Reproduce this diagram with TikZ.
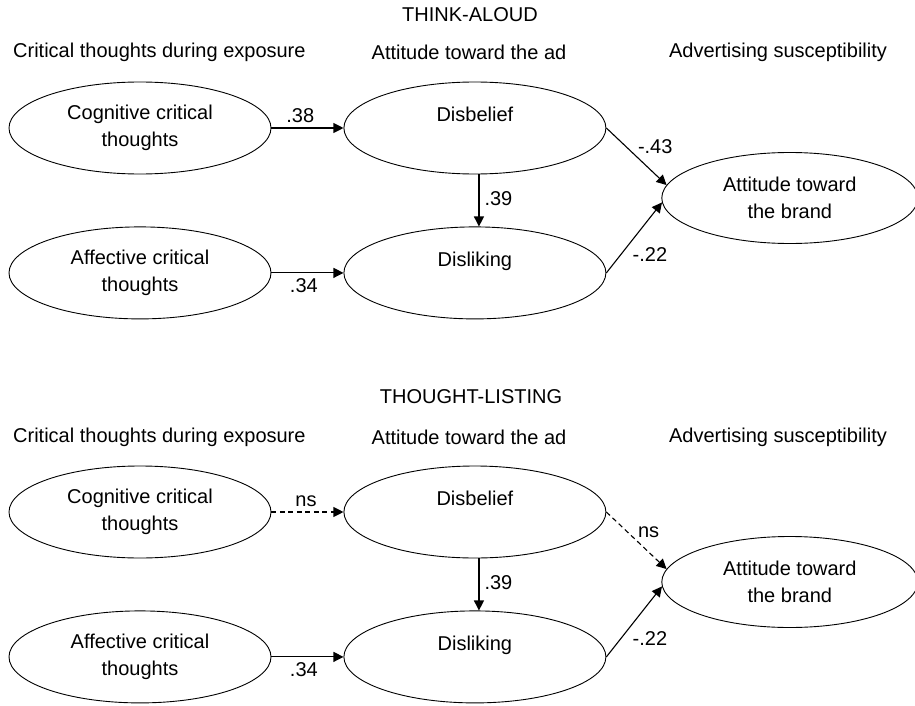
\documentclass[tikz,border=0pt]{standalone}
\usepackage{fontspec}
\setmainfont{Liberation Sans}
\usetikzlibrary{shapes.geometric,arrows.meta,positioning}
\tikzset{
  latent/.style={ellipse,draw=black,line width=0.9pt,minimum width=262pt,minimum height=92pt,inner sep=0pt,align=center},
  brandnode/.style={latent,minimum width=256pt,minimum height=91pt},
  hdr/.style={inner sep=0pt},
  arr/.style={-{Triangle[length=10pt,width=10pt]},line width=1.1pt},
  dasharr/.style={arr,dash pattern=on 5pt off 3.5pt},
  coef/.style={inner sep=5pt},
  dcoef/.style={inner sep=2pt}
}

\begin{document}
\begin{tikzpicture}[x=1pt,y=-1pt,font=\fontsize{20}{27}\selectfont]
  \useasboundingbox (0,0) rectangle (915,706);
  % think-aloud panel
  \node[hdr] (title1) at (470,15) {THINK-ALOUD};
  \node[hdr,anchor=west] (hcrit1) at (13,52) {Critical thoughts during exposure};
  \node[hdr] (had1) at (469,52) {Attitude toward the ad};
  \node[hdr] (hsus1) at (778,52) {Advertising susceptibility};

  \node[latent] (cog1) at (140,128) {Cognitive critical\\thoughts};
  \node[latent,right=72pt of cog1] (dis1) {Disbelief\\\phantom{x}};
  \node[latent,below=52pt of cog1] (aff1) {Affective critical\\thoughts};
  \node[latent,right=72pt of aff1] (dlk1) {Disliking\\\phantom{x}};
  \node[brandnode,right=55pt of dis1,yshift=-70pt] (brand1) {Attitude toward\\the brand};

  \draw[arr] (cog1) -- node[coef,above,pos=0.4]{.38} (dis1);
  \draw[arr] (aff1) -- node[coef,below,pos=0.45]{.34} (dlk1);
  \draw[arr] (dis1.-85) -- node[coef,right,yshift=2pt]{.39} (dlk1.85);
  \draw[arr] (dis1.east) -- node[dcoef,above right,xshift=-1pt]{-.43} (brand1.174);
  \draw[arr] (dlk1.east) -- node[dcoef,below right,xshift=-4pt,yshift=-7pt]{-.22} (brand1.182);

  % thought-listing panel
  \node[hdr] (title2) at (471,397) {THOUGHT-LISTING};
  \node[hdr,anchor=west] (hcrit2) at (13,437) {Critical thoughts during exposure};
  \node[hdr] (had2) at (469,437) {Attitude toward the ad};
  \node[hdr] (hsus2) at (778,437) {Advertising susceptibility};

  \node[latent] (cog2) at (140,512) {Cognitive critical\\thoughts};
  \node[latent,right=72pt of cog2] (dis2) {Disbelief\\\phantom{x}};
  \node[latent,below=52pt of cog2] (aff2) {Affective critical\\thoughts};
  \node[latent,right=72pt of aff2] (dlk2) {Disliking\\\phantom{x}};
  \node[brandnode,right=55pt of dis2,yshift=-70pt] (brand2) {Attitude toward\\the brand};

  \draw[dasharr] (cog2) -- node[coef,above,pos=0.48]{ns} (dis2);
  \draw[arr] (aff2) -- node[coef,below,pos=0.45]{.34} (dlk2);
  \draw[arr] (dis2.-85) -- node[coef,right,yshift=2pt]{.39} (dlk2.85);
  \draw[dasharr] (dis2.east) -- node[dcoef,above right,xshift=-1pt]{ns} (brand2.174);
  \draw[arr] (dlk2.east) -- node[dcoef,below right,xshift=-4pt,yshift=-7pt]{-.22} (brand2.182);
\end{tikzpicture}
\end{document}
